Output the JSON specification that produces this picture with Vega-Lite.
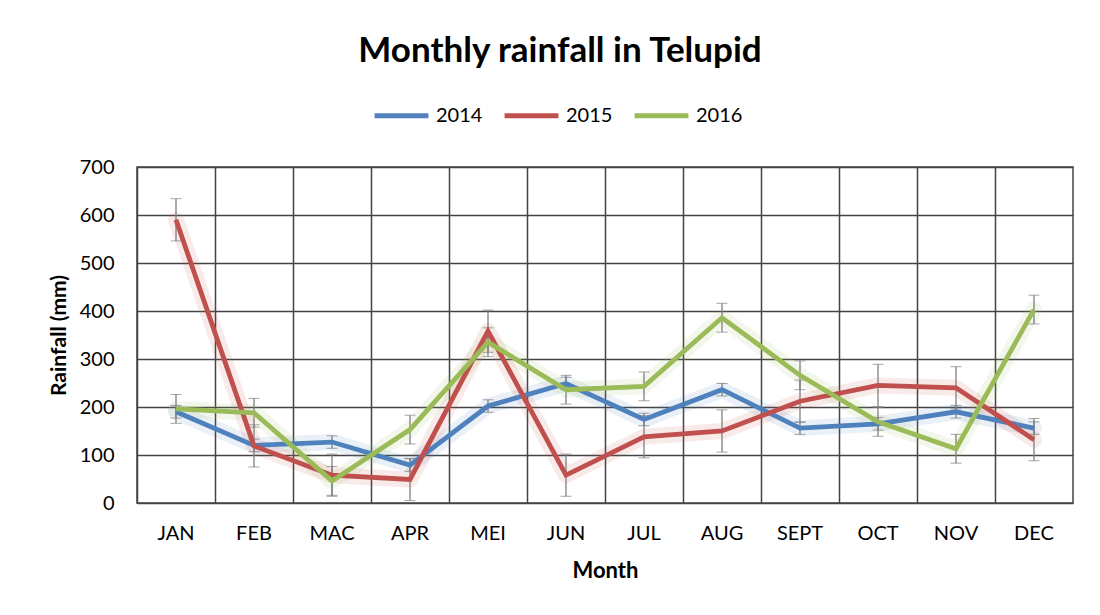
{
  "$schema": "https://vega.github.io/schema/vega-lite/v6.json",
  "width": 936,
  "height": 336,
  "autosize": {"type": "none"},
  "padding": {"left": 137, "top": 167, "right": 27, "bottom": 112},
  "background": "white",
  "config": {
    "font": "Lato",
    "view": {"stroke": "#444444", "strokeWidth": 1.5},
    "axis": {"labelFont": "Lato", "titleFont": "Lato", "labelColor": "#000000", "titleColor": "#000000"}
  },
  "title": {
    "text": "Monthly rainfall in Telupid",
    "font": "Lato",
    "fontSize": 35,
    "fontWeight": "bold",
    "color": "#000000",
    "anchor": "middle",
    "dx": -45,
    "offset": 17
  },
  "data": {
    "values": [
      {"month": "JAN", "year": "2014", "value": 190, "err": 13},
      {"month": "FEB", "year": "2014", "value": 120, "err": 13},
      {"month": "MAC", "year": "2014", "value": 127, "err": 13},
      {"month": "APR", "year": "2014", "value": 79, "err": 13},
      {"month": "MEI", "year": "2014", "value": 202, "err": 13},
      {"month": "JUN", "year": "2014", "value": 249, "err": 13},
      {"month": "JUL", "year": "2014", "value": 174, "err": 13},
      {"month": "AUG", "year": "2014", "value": 236, "err": 13},
      {"month": "SEPT", "year": "2014", "value": 156, "err": 13},
      {"month": "OCT", "year": "2014", "value": 165, "err": 13},
      {"month": "NOV", "year": "2014", "value": 190, "err": 13},
      {"month": "DEC", "year": "2014", "value": 156, "err": 13},
      {"month": "JAN", "year": "2015", "value": 590, "err": 44},
      {"month": "FEB", "year": "2015", "value": 119, "err": 44},
      {"month": "MAC", "year": "2015", "value": 58, "err": 44},
      {"month": "APR", "year": "2015", "value": 49, "err": 44},
      {"month": "MEI", "year": "2015", "value": 358, "err": 44},
      {"month": "JUN", "year": "2015", "value": 58, "err": 44},
      {"month": "JUL", "year": "2015", "value": 138, "err": 44},
      {"month": "AUG", "year": "2015", "value": 150, "err": 44},
      {"month": "SEPT", "year": "2015", "value": 212, "err": 44},
      {"month": "OCT", "year": "2015", "value": 245, "err": 44},
      {"month": "NOV", "year": "2015", "value": 240, "err": 44},
      {"month": "DEC", "year": "2015", "value": 132, "err": 44},
      {"month": "JAN", "year": "2016", "value": 196, "err": 30},
      {"month": "FEB", "year": "2016", "value": 188, "err": 30},
      {"month": "MAC", "year": "2016", "value": 46, "err": 30},
      {"month": "APR", "year": "2016", "value": 153, "err": 30},
      {"month": "MEI", "year": "2016", "value": 335, "err": 30},
      {"month": "JUN", "year": "2016", "value": 236, "err": 30},
      {"month": "JUL", "year": "2016", "value": 243, "err": 30},
      {"month": "AUG", "year": "2016", "value": 386, "err": 30},
      {"month": "SEPT", "year": "2016", "value": 266, "err": 30},
      {"month": "OCT", "year": "2016", "value": 169, "err": 30},
      {"month": "NOV", "year": "2016", "value": 113, "err": 30},
      {"month": "DEC", "year": "2016", "value": 403, "err": 30}
    ]
  },
  "layer": [
    {
      "mark": {"type": "line", "strokeWidth": 16, "opacity": 0.12, "strokeCap": "round", "strokeJoin": "round"},
      "encoding": {
        "x": {
          "field": "month", "type": "nominal",
          "sort": ["JAN","FEB","MAC","APR","MEI","JUN","JUL","AUG","SEPT","OCT","NOV","DEC"],
          "scale": {"type": "band", "paddingInner": 0, "paddingOuter": 0},
          "axis": {"orient": "bottom", "grid": true, "bandPosition": 0, "gridColor": "#444444", "gridWidth": 1.5, "gridOpacity": 1, "labels": false, "ticks": false, "domain": false, "title": null}
        },
        "y": {
          "field": "value", "type": "quantitative", "title": "Rainfall (mm)",
          "scale": {"domain": [0, 700], "nice": false},
          "axis": {"values": [0,100,200,300,400,500,600,700], "grid": true, "gridColor": "#444444", "gridWidth": 1.5, "gridOpacity": 1, "ticks": false, "domain": false, "labelFontSize": 20, "labelPadding": 23, "titleFontSize": 21, "titleFontWeight": "bold", "titlePadding": 10}
        },
        "color": {
          "field": "year", "type": "nominal",
          "scale": {"domain": ["2014","2015","2016"], "range": ["#4F81BD","#C0504D","#9BBB59"]},
          "legend": {"orient": "none", "legendX": 235, "legendY": -81, "direction": "horizontal", "title": null, "symbolType": "stroke", "symbolSize": 2900, "symbolStrokeWidth": 5, "symbolOpacity": 1, "labelFontSize": 20, "labelFont": "Lato", "labelColor": "#000000", "labelOffset": 5, "columnPadding": 11}
        }
      }
    },
    {
      "mark": {"type": "errorbar", "ticks": {"size": 11, "color": "#7F7F7F", "strokeWidth": 1.3}, "rule": {"color": "#7F7F7F", "strokeWidth": 1.3}},
      "encoding": {
        "x": {"field": "month", "type": "nominal", "sort": ["JAN","FEB","MAC","APR","MEI","JUN","JUL","AUG","SEPT","OCT","NOV","DEC"], "axis": null},
        "y": {"field": "value", "type": "quantitative", "title": "Rainfall (mm)"},
        "yError": {"field": "err"},
        "detail": {"field": "year", "type": "nominal"}
      }
    },
    {
      "mark": {"type": "line", "strokeWidth": 4.8, "strokeJoin": "miter"},
      "encoding": {
        "x": {
          "field": "month", "type": "nominal",
          "sort": ["JAN","FEB","MAC","APR","MEI","JUN","JUL","AUG","SEPT","OCT","NOV","DEC"],
          "axis": {"orient": "bottom", "grid": false, "ticks": false, "domain": false, "labelAngle": 0, "labelFontSize": 20, "labelPadding": 20, "title": "Month", "titleFontSize": 22, "titleFontWeight": "bold", "titlePadding": 17}
        },
        "y": {"field": "value", "type": "quantitative", "title": "Rainfall (mm)"},
        "color": {"field": "year", "type": "nominal"}
      }
    }
  ],
  "resolve": {"axis": {"x": "independent"}}
}
